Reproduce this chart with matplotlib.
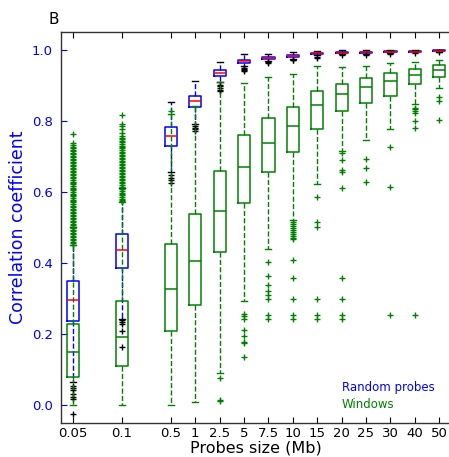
import matplotlib
matplotlib.use("Agg")
import matplotlib.pyplot as plt

# Probe sizes (Mb) shown on the x axis
sizes = ["0.05", "0.1", "0.5", "1", "2.5", "5", "7.5", "10", "15", "20", "25", "30", "40", "50"]

# Random probes: box statistics per probe size
rand_q1 = [0.235, 0.385, 0.730, 0.839, 0.926, 0.962, 0.974, 0.979, 0.988, 0.990, 0.991, 0.993, 0.994, 0.996]
rand_med = [0.296, 0.437, 0.758, 0.855, 0.934, 0.967, 0.977, 0.983, 0.990, 0.992, 0.993, 0.994, 0.995, 0.997]
rand_q3 = [0.349, 0.481, 0.782, 0.870, 0.943, 0.971, 0.981, 0.986, 0.992, 0.994, 0.995, 0.996, 0.997, 0.998]
rand_lo = [0.065, 0.243, 0.657, 0.792, 0.910, 0.953, 0.967, 0.975, 0.984, 0.987, 0.989, 0.991, 0.993, 0.995]
rand_hi = [0.500, 0.612, 0.852, 0.913, 0.965, 0.988, 0.989, 0.993, 0.997, 0.998, 0.999, 0.999, 1.000, 1.000]
rand_out = [
    [0.052, 0.047, 0.041, 0.030, 0.023, 0.016, -0.025],
    [0.238, 0.234, 0.229, 0.209, 0.164],
    [0.648, 0.640, 0.632, 0.625],
    [0.786, 0.781, 0.776, 0.772],
    [0.902, 0.897, 0.892, 0.888, 0.884],
    [0.948, 0.945, 0.942, 0.939],
    [0.965, 0.962],
    [0.972, 0.970],
    [0.981, 0.978],
    [0.984],
    [0.986],
    [0.989],
    [0.991],
    [0.993],
]

# Windows: box statistics per probe size
win_q1 = [0.078, 0.109, 0.209, 0.281, 0.430, 0.569, 0.655, 0.712, 0.778, 0.828, 0.850, 0.870, 0.903, 0.923]
win_med = [0.149, 0.191, 0.326, 0.406, 0.546, 0.671, 0.737, 0.785, 0.845, 0.875, 0.895, 0.911, 0.930, 0.942]
win_q3 = [0.227, 0.294, 0.454, 0.537, 0.659, 0.760, 0.808, 0.840, 0.884, 0.905, 0.921, 0.934, 0.947, 0.956]
win_lo = [0.000, 0.000, 0.000, 0.008, 0.089, 0.293, 0.439, 0.521, 0.623, 0.714, 0.746, 0.777, 0.848, 0.892]
win_hi = [0.449, 0.571, 0.818, 0.843, 0.910, 0.907, 0.923, 0.932, 0.953, 0.952, 0.955, 0.962, 0.965, 0.972]
win_out = [
    [0.451, 0.455, 0.459, 0.464, 0.468, 0.472, 0.476, 0.481, 0.485, 0.489, 0.493, 0.498,
     0.502, 0.506, 0.510, 0.515, 0.519, 0.523, 0.527, 0.532, 0.536, 0.540, 0.544, 0.549,
     0.553, 0.557, 0.561, 0.566, 0.570, 0.574, 0.578, 0.583, 0.587, 0.591, 0.595, 0.600,
     0.604, 0.608, 0.612, 0.617, 0.621, 0.625, 0.629, 0.634, 0.638, 0.642, 0.646, 0.651,
     0.655, 0.659, 0.663, 0.668, 0.672, 0.676, 0.680, 0.685, 0.689, 0.693, 0.697, 0.702,
     0.706, 0.710, 0.714, 0.719, 0.723, 0.727, 0.731, 0.737, 0.763],
    [0.573, 0.577, 0.581, 0.586, 0.590, 0.594, 0.598, 0.603, 0.607, 0.611, 0.615, 0.620,
     0.624, 0.628, 0.632, 0.637, 0.641, 0.645, 0.649, 0.654, 0.658, 0.662, 0.666, 0.671,
     0.675, 0.679, 0.683, 0.688, 0.692, 0.696, 0.700, 0.705, 0.709, 0.713, 0.717, 0.722,
     0.726, 0.730, 0.734, 0.739, 0.743, 0.748, 0.752, 0.758, 0.767, 0.777, 0.784, 0.792, 0.816],
    [0.828],
    [],
    [0.075, 0.014, 0.010],
    [0.255, 0.251, 0.241, 0.211, 0.194, 0.177, 0.174, 0.134],
    [0.402, 0.364, 0.338, 0.322, 0.310, 0.298, 0.254, 0.241],
    [0.515, 0.509, 0.503, 0.497, 0.492, 0.486, 0.481, 0.476, 0.470, 0.466,
     0.408, 0.357, 0.297, 0.254, 0.241],
    [0.585, 0.516, 0.500, 0.297, 0.254, 0.241],
    [0.709, 0.690, 0.662, 0.657, 0.610, 0.357, 0.297, 0.254, 0.241],
    [0.693, 0.668, 0.628],
    [0.727, 0.614, 0.254],
    [0.836, 0.832, 0.827, 0.822, 0.800, 0.781, 0.254],
    [0.868, 0.857, 0.801],
]

BLUE = (0.0, 0.0, 1.0)
GREEN = (0.0, 0.5, 0.0)


def make_stats(q1, med, q3, lo, hi, out):
    return [dict(q1=a, med=m, q3=b, whislo=l, whishi=h, fliers=f)
            for a, m, b, l, h, f in zip(q1, med, q3, lo, hi, out)]


# x placement: the two smallest sizes get extra room
positions = [1, 3] + list(range(5, 5 + len(sizes) - 2))

fig = plt.figure(figsize=(4.49, 4.57), dpi=100)
ax = fig.add_axes([61 / 449, 1 - 422.7 / 457, 390.4 / 449, 390.7 / 457])

ax.bxp(make_stats(rand_q1, rand_med, rand_q3, rand_lo, rand_hi, rand_out),
       positions=positions, widths=0.5, manage_ticks=False,
       boxprops=dict(color=BLUE, linewidth=1.1),
       whiskerprops=dict(color=BLUE, linestyle="--", linewidth=1.0),
       capprops=dict(color="k", linewidth=1.0),
       medianprops=dict(color="red", linewidth=1.1),
       flierprops=dict(marker="+", markeredgecolor="k", markersize=4, markeredgewidth=1.0,
                       linestyle="none"))

ax.bxp(make_stats(win_q1, win_med, win_q3, win_lo, win_hi, win_out),
       positions=positions, widths=0.5, manage_ticks=False,
       boxprops=dict(color=GREEN, linewidth=1.1),
       whiskerprops=dict(color=GREEN, linestyle="--", linewidth=1.0),
       capprops=dict(color=GREEN, linewidth=1.0),
       medianprops=dict(color=GREEN, linewidth=1.1),
       flierprops=dict(marker="+", markeredgecolor=GREEN, markersize=4, markeredgewidth=1.0,
                       linestyle="none"))

ax.set_xlim(0.5, 16.5)
ax.set_ylim(-0.05, 1.05)
ax.set_xticks(positions)
ax.set_xticklabels(sizes)
ax.set_yticks([0.0, 0.2, 0.4, 0.6, 0.8, 1.0])
ax.set_yticklabels(["0.0", "0.2", "0.4", "0.6", "0.8", "1.0"])

ax.tick_params(axis="x", direction="in", top=True, length=4, width=0.8,
               labelsize=9.5, pad=3, colors="k")
ax.tick_params(axis="y", direction="in", right=False, length=4, width=0.8,
               labelsize=9.5, pad=6, colors=BLUE)
for s in ax.spines.values():
    s.set_linewidth(1.0)
    s.set_color("#333333")
ax.spines["right"].set_visible(False)

ax.set_ylabel("Correlation coefficient", fontsize=12.5, color=BLUE)
ax.yaxis.set_label_coords(-0.087, 0.5)
ax.set_xlabel("Probes size (Mb)", fontsize=11.5, color="k")
ax.xaxis.set_label_coords(0.5, -0.045)

fig.text(342 / 449, 1 - 387 / 457, "Random probes", color=BLUE, fontsize=8.5, va="center")
fig.text(342 / 449, 1 - 404 / 457, "Windows", color=GREEN, fontsize=8.5, va="center")
fig.text(49 / 449, 1 - 20 / 457, "B", color="k", fontsize=11, va="center")

fig.savefig("out.png", dpi=100)
